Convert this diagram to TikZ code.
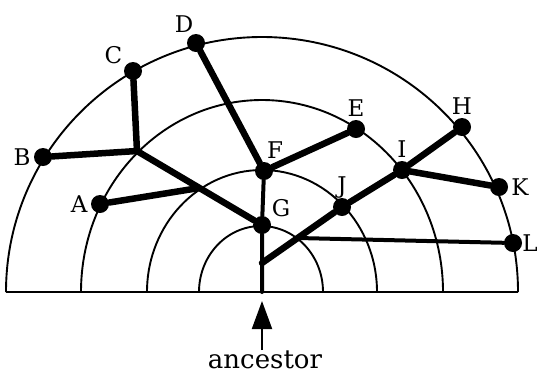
\documentclass[tikz,border=0pt]{standalone}
\usepackage{fontspec}
\setmainfont{DejaVu Serif}
\usetikzlibrary{arrows.meta}

\begin{document}
\begin{tikzpicture}[
  x=1pt, y=-1pt,
  ring/.style={line width=1.9pt},
  dot/.style={circle, fill, inner sep=0pt, minimum size=18pt},
  lbl/.style={font=\fontsize{23}{27}\selectfont, inner sep=1pt},
  every label/.style={label distance=2pt},
  thick edge/.style={line width=6.5pt, line cap=round, line join=round},
  thin edge/.style={line width=4pt, line cap=round},
  arr/.style={-{Triangle[length=28pt, width=20pt]}, line width=2pt}
]
\useasboundingbox (0,0) rectangle (537,373);
\draw[ring] (6,292) -- (518,292);
\draw[ring] (518,292) arc[start angle=0, end angle=180, x radius=256pt, y radius=255pt];
\draw[ring] (443,292) arc[start angle=0, end angle=180, x radius=181pt, y radius=192pt];
\draw[ring] (377,292) arc[start angle=0, end angle=180, x radius=115pt, y radius=122pt];
\draw[ring] (323,292) arc[start angle=0, end angle=180, x radius=62pt, y radius=66pt];

\node[dot, label={[lbl]left:A}] (A) at (100,204) {};
\node[dot, label={[lbl]left:B}] (B) at (43,157) {};
\node[dot, label={[lbl]150:C}] (C) at (133,71) {};
\node[dot, label={[lbl,label distance=0pt]100:D}] (D) at (196,43) {};
\node[dot, label={[lbl]above:E}] (E) at (356,129) {};
\node[dot, label={[lbl]80:F}] (F) at (264,171) {};
\node[dot, label={[lbl]40:G}] (G) at (262,225) {};
\node[dot, label={[lbl]above:H}] (H) at (462,127) {};
\node[dot, label={[lbl]above:I}] (I) at (402,170) {};
\node[dot, label={[lbl,label distance=-2pt]above:J}] (J) at (342,207) {};
\node[dot, label={[lbl]right:K}] (K) at (499,187) {};
\node[dot, label={[lbl,inner sep=0pt,label distance=0pt]right:L}] (L) at (513,243) {};

\coordinate (cb) at (137,151);
\coordinate (qa) at (199,188);
\coordinate (rj) at (262,263);
\coordinate (sl) at (298,238);
\coordinate (root) at (262,292);

\draw[thick edge] (B) -- (cb) -- (C);
\draw[thick edge] (cb) -- (G);
\draw[thick edge] (A) -- (qa);
\draw[thick edge] (D) -- (F) -- (E);
\draw[thin edge] (F) -- (G) -- (root);
\draw[thick edge] (rj) -- (J) -- (I) -- (H);
\draw[thick edge] (I) -- (K);
\draw[thin edge] (sl) -- (L);

\node[font=\fontsize{26}{30}\selectfont, inner sep=0pt, anchor=base] (anc) at (265,368) {ancestor};
\coordinate (tip) at (262,301);
\draw[arr] (anc.north -| tip) -- (tip);
\end{tikzpicture}
\end{document}
